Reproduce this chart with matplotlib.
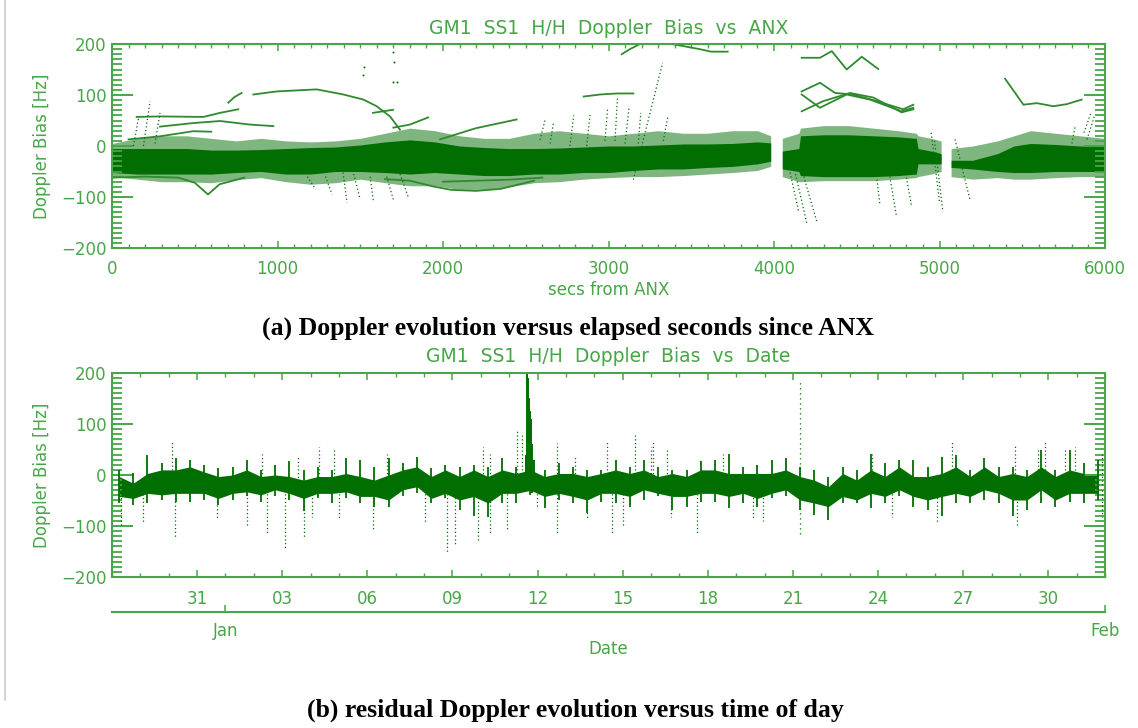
import numpy as np
import matplotlib
matplotlib.use('Agg')
import matplotlib.pyplot as plt
from matplotlib.lines import Line2D
from matplotlib.ticker import MultipleLocator, FixedLocator

AXIS_GREEN = '#48a648'
DATA_GREEN = '#006e00'
TRACE_GREEN = '#2f8a2f'

# ---------------- panel (a): bias vs seconds from ANX ----------------
# dense band, one block per pass segment (secs, Hz)
seg1_t = [0, 150, 300, 450, 600, 750, 900, 1050, 1200, 1350, 1500, 1650, 1800, 1950,
          2100, 2250, 2400, 2550, 2700, 2850, 3000, 3150, 3300, 3450, 3600, 3750, 3900, 3980]
seg1_hi = [-5, -5, -5, -5, -8, -8, -7, -5, -3, -2, 2, 8, 12, 8,
           0, -3, -5, -5, -4, -2, 0, 0, 2, 4, 4, 5, 8, 6]
seg1_lo = [-52, -55, -55, -55, -55, -52, -50, -55, -55, -50, -50, -52, -55, -52,
           -55, -58, -58, -55, -55, -52, -52, -48, -45, -45, -42, -40, -35, -30]
seg1_fhi = [5, 15, 20, 20, 15, 10, 15, 10, 8, 10, 15, 25, 35, 30,
            20, 15, 15, 25, 30, 25, 20, 25, 30, 25, 25, 30, 30, 20]
seg1_flo = [-60, -65, -70, -70, -72, -66, -62, -70, -75, -72, -65, -72, -78, -78,
            -85, -85, -80, -72, -70, -65, -62, -60, -60, -58, -55, -52, -48, -40]

seg2_t = [4050, 4150, 4160, 4300, 4450, 4600, 4750, 4860, 4870, 4950, 5010]
seg2_hi = [-10, -5, 20, 22, 22, 20, 18, 15, -5, -10, -15]
seg2_lo = [-45, -50, -58, -60, -60, -60, -58, -55, -35, -35, -35]
seg2_fhi = [15, 25, 35, 40, 40, 35, 30, 25, 20, 15, 10]
seg2_flo = [-60, -70, -70, -68, -68, -68, -65, -62, -60, -55, -50]

seg3_t = [5070, 5200, 5350, 5450, 5550, 5700, 5850, 6000]
seg3_hi = [-28, -28, -15, 0, 5, 3, 0, 0]
seg3_lo = [-42, -45, -50, -52, -52, -50, -50, -50]
seg3_fhi = [-5, 0, 10, 20, 30, 25, 20, 15]
seg3_flo = [-60, -65, -62, -65, -65, -62, -60, -60]

# single passes standing off the band
traces_a = [
    ([854, 995, 1237, 1398, 1519, 1599, 1680, 1740], [101, 107, 111, 101, 91, 78, 58, 32]),
    ([703, 740, 783], [85, 96, 104]),
    ([149, 290, 552, 653, 763], [57, 58, 57, 65, 72]),
    ([290, 491, 653, 834, 975], [38, 45, 49, 42, 39]),
    ([100, 290, 491, 600], [13, 19, 29, 28]),
    ([0, 200, 400, 500, 580, 650, 800], [-62, -60, -62, -72, -95, -75, -62]),
    ([1650, 1800, 1950, 2050, 2200, 2350, 2450, 2550], [-65, -68, -80, -86, -88, -84, -76, -68]),
    ([2000, 2200, 2400, 2600], [-70, -68, -66, -62]),
    ([1700, 1800, 1910], [36, 42, 56]),
    ([1577, 1698], [65, 71]),
    ([1982, 2200, 2445], [13, 35, 52]),
    ([3080, 3130, 3190], [180, 190, 200]),
    ([3380, 3450, 3550, 3620, 3720], [200, 196, 190, 185, 185]),
    ([2850, 2950, 3050, 3150], [97, 101, 103, 103]),
    ([4167, 4278, 4349, 4439, 4530, 4630], [173, 173, 186, 150, 175, 151]),
    ([4167, 4278, 4369, 4479, 4620, 4781, 4842], [107, 124, 104, 101, 88, 72, 81]),
    ([4167, 4278, 4439, 4580, 4771, 4842], [101, 75, 101, 91, 68, 75]),
    ([4167, 4298, 4459, 4600, 4771, 4842], [68, 88, 104, 95, 66, 72]),
    ([5396, 5507, 5588, 5688, 5768, 5859], [132, 81, 84, 78, 82, 91]),
]

# sparse dotted passes (start secs, start Hz, end secs, end Hz)
dots_t0 = [130, 190, 260, 1180, 1290, 1396, 1460, 1560, 1660, 1740, 2586, 2647, 2767, 2868,
           2979, 3039, 3100, 3180, 3150, 3331, 4097, 4130, 4180, 4622, 4700, 4800, 4950,
           4970, 5094, 5800, 5891, 5873]
dots_v0 = [0, 0, 5, -60, -60, -52, -55, -60, -60, -55, 12, 5, 0, 0,
           10, 10, 5, 5, -66, 10, -52, -55, -60, -66, -60, -62, 26,
           10, 13, 5, 13, 26]
dots_t1 = [160, 230, 290, 1230, 1330, 1420, 1500, 1580, 1700, 1790, 2616, 2667, 2790, 2890,
           2995, 3055, 3125, 3195, 3327, 3360, 4150, 4200, 4260, 4640, 4740, 4830, 5000,
           5020, 5184, 5820, 5940, 5915]
dots_v1 = [55, 88, 65, -85, -95, -111, -105, -110, -105, -100, 50, 45, 60, 65,
           75, 98, 78, 65, 163, 60, -130, -154, -150, -115, -138, -115, -110,
           -129, -105, 40, 62, 65]
stray_t = [1520, 1700, 1705, 1700, 1720, 1515]
stray_v = [155, 185, 165, 125, 125, 140]

# ---------------- panel (b): bias vs date ----------------
# half-day bins starting 28 Dec; core of the cloud and its spiky extremes (Hz)
core_hi = [-3, -16, 3, 10, 10, 16, 6, -3, 0, 10, -3, 0, -3, -10, -3, -3, 3,
           -3, -10, 0, 10, 16, -3, 10, -3, 10, -3, 10, 3, 10, -3, 3, 3, -3, 3,
           10, 3, 10, -3, 3, -3, 10, 10, 3, 3, 3, 3, 10, -3, -10, -23, 3,
           -10, 10, -3, 16, -3, -3, 3, 16, -3, 16, -3, 3, -3, 16, -3, 10, 3, 3]
core_lo = [-42, -46, -36, -39, -36, -36, -36, -46, -36, -33, -39, -29, -36, -46, -36, -36, -33,
           -42, -42, -49, -29, -23, -46, -36, -49, -42, -55, -36, -36, -30, -42, -36, -42, -49, -36,
           -36, -42, -29, -36, -42, -42, -36, -36, -42, -36, -46, -36, -29, -49, -55, -62, -42,
           -49, -36, -42, -29, -42, -49, -42, -36, -42, -29, -36, -49, -49, -29, -49, -36, -36, -36]
peak_hi = [10, 3, 40, 23, 33, 30, 20, 13, 16, 30, 10, 20, 27, 10, 16, 10, 33,
           30, 16, 33, 23, 36, 13, 20, 16, 20, 16, 33, 16, 16, 10, 23, 16, 10, 10,
           30, 16, 30, 16, 10, 10, 27, 30, 42, 16, 20, 30, 33, 16, 10, -3, 16,
           10, 42, 23, 30, 30, 16, 36, 40, 10, 33, 16, 16, 10, 49, 10, 49, 23, 30]
peak_lo = [-55, -59, -55, -49, -52, -52, -49, -59, -49, -42, -52, -42, -49, -70, -46, -55, -46,
           -55, -62, -62, -42, -36, -55, -46, -68, -80, -82, -55, -55, -40, -65, -49, -55, -75, -52,
           -55, -62, -49, -42, -68, -62, -52, -52, -65, -55, -62, -46, -42, -68, -78, -88, -55,
           -55, -65, -55, -42, -62, -68, -80, -55, -55, -49, -55, -81, -68, -55, -62, -52, -55, -49]

# isolated dotted outliers (day, Hz)
drop_day = [0.3, 1.10, 2.22, 3.69, 4.75, 5.45, 6.10, 6.75, 7.04, 7.99, 9.21, 11.03, 11.82,
            12.09, 12.91, 13.32, 13.91, 14.97, 15.67, 16.73, 17.61, 18.02, 19.72, 20.61,
            22.60, 22.96, 27.48, 29.07, 31.89, 34.9]
drop_val = [-100, -95, -121, -88, -98, -118, -144, -121, -82, -88, -108, -95, -153,
            -140, -127, -114, -105, -65, -114, -88, -114, -101, -82, -114,
            -88, -91, -82, -95, -101, -82]
jump_day = [2.13, 5.28, 6.56, 7.31, 7.83, 9.68, 13.09, 13.32, 14.26, 14.44, 15.67, 16.32,
            17.46, 18.43, 18.99, 19.08, 19.55, 21.55, 26.78, 29.60, 31.83, 32.65, 32.89,
            33.59, 33.94, 34.9]
jump_val = [69, 42, 40, 55, 52, 42, 55, 42, 88, 82, 62, 40,
            69, 82, 55, 69, 49, 42, 42, 69, 59, 49, 69,
            52, 55, 42]
# 21 Jan sweep and the 11/12 Jan excursion
sweep_day, sweep_lo, sweep_hi = 24.24, -115, 186
event_day = [14.60, 14.62, 14.66, 14.70, 14.74, 14.78, 14.82, 14.86]
event_lo = [-20, -10, 60, -20, 30, -30, -35, -30]
event_hi = [40, 200, 190, 150, 125, 110, 60, 30]

date_ticks = [3, 6, 9, 12, 15, 18, 21, 24, 27, 30, 33]
date_labels = ['31', '03', '06', '09', '12', '15', '18', '21', '24', '27', '30']
month_ticks = [4, 35]
month_labels = ['Jan', 'Feb']

W, H = 1138, 728
fig = plt.figure(figsize=(W / 100, H / 100), dpi=100)
fig.patch.set_facecolor('white')
plt.rcParams['font.family'] = ['DejaVu Sans']

def px_box(x0, y0, x1, y1):
    return [x0 / W, 1 - y1 / H, (x1 - x0) / W, (y1 - y0) / H]

def style_axes(ax):
    for s in ax.spines.values():
        s.set_color(AXIS_GREEN)
        s.set_linewidth(1.5)
    ax.set_ylim(-200, 200)
    ax.yaxis.set_major_locator(MultipleLocator(100))
    ax.yaxis.set_minor_locator(MultipleLocator(10))
    ax.tick_params(which='both', direction='in', top=True, right=True,
                   colors=AXIS_GREEN, labelcolor=AXIS_GREEN, labelsize=12)
    ax.tick_params(axis='y', which='major', length=15, width=1.4, pad=4)
    ax.tick_params(axis='y', which='minor', length=7, width=1.3)
    ax.tick_params(axis='x', which='major', length=5, width=1.1, pad=9)
    ax.tick_params(axis='x', which='minor', length=3, width=1.0)
    ax.set_ylabel('Doppler Bias [Hz]', color=AXIS_GREEN, fontsize=12)
    ax.yaxis.set_label_coords(-0.061, 0.5)

# panel (a)
ax1 = fig.add_axes(px_box(112, 44, 1105, 248))
style_axes(ax1)
ax1.set_xlim(0, 6000)
ax1.xaxis.set_major_locator(MultipleLocator(1000))
ax1.xaxis.set_minor_locator(MultipleLocator(100))
ax1.set_xlabel('secs from ANX', color=AXIS_GREEN, fontsize=12, labelpad=2)
for t, hi, lo, fhi, flo in [(seg1_t, seg1_hi, seg1_lo, seg1_fhi, seg1_flo),
                            (seg2_t, seg2_hi, seg2_lo, seg2_fhi, seg2_flo),
                            (seg3_t, seg3_hi, seg3_lo, seg3_fhi, seg3_flo)]:
    ax1.fill_between(t, flo, fhi, color=DATA_GREEN, alpha=0.5, lw=0)
    ax1.fill_between(t, lo, hi, color=DATA_GREEN, lw=0)
for tt, vv in traces_a:
    ax1.plot(tt, vv, color=TRACE_GREEN, lw=1.3)
for t0, v0, t1, v1 in zip(dots_t0, dots_v0, dots_t1, dots_v1):
    ax1.plot([t0, t1], [v0, v1], color=DATA_GREEN, lw=0.9, ls=(0, (1, 2)))
ax1.scatter(stray_t, stray_v, s=2, color=DATA_GREEN, lw=0)
ax1.text(0.5, 1.075, 'GM1  SS1  H/H  Doppler  Bias  vs  ANX', transform=ax1.transAxes,
         ha='center', va='center', color=AXIS_GREEN, fontsize=13.5)

# panel (b)
ax2 = fig.add_axes(px_box(112, 373, 1105, 577))
style_axes(ax2)
ax2.set_xlim(0, 35)
ax2.xaxis.set_major_locator(FixedLocator(date_ticks))
ax2.xaxis.set_minor_locator(MultipleLocator(1))
ax2.set_xticklabels(date_labels)
day_mid = np.arange(len(core_hi)) * 0.5 + 0.25
ax2.fill_between(day_mid, core_lo, core_hi, color=DATA_GREEN, lw=0)
ax2.vlines(day_mid, peak_lo, peak_hi, color=DATA_GREEN, lw=1.3)
ax2.vlines(drop_day, -30, drop_val, color=DATA_GREEN, lw=0.9, linestyles=(0, (1, 2)))
ax2.vlines(jump_day, -20, jump_val, color=DATA_GREEN, lw=0.9, linestyles=(0, (1, 2)))
ax2.vlines([sweep_day], sweep_lo, sweep_hi, color=DATA_GREEN, lw=0.9, linestyles=(0, (1, 3)))
ax2.vlines(event_day, event_lo, event_hi, color=DATA_GREEN, lw=1.4)
ax2.text(0.5, 1.08, 'GM1  SS1  H/H  Doppler  Bias  vs  Date', transform=ax2.transAxes,
         ha='center', va='center', color=AXIS_GREEN, fontsize=13.5)

# month axis underneath
ax3 = fig.add_axes(px_box(112, 611, 1105, 612))
ax3.set_xlim(0, 35)
ax3.set_ylim(0, 1)
for side in ['left', 'right', 'top']:
    ax3.spines[side].set_visible(False)
ax3.spines['bottom'].set_color(AXIS_GREEN)
ax3.spines['bottom'].set_linewidth(1.5)
ax3.set_yticks([])
ax3.set_xticks(month_ticks)
ax3.set_xticklabels(month_labels)
ax3.tick_params(axis='x', direction='in', length=5, width=1.1, colors=AXIS_GREEN,
                labelcolor=AXIS_GREEN, labelsize=12, pad=7)
ax3.patch.set_visible(False)
fig.text(608 / W, 1 - 649 / H, 'Date', ha='center', va='center', color=AXIS_GREEN, fontsize=12)

# captions
fig.text(568 / W, 1 - 328 / H, '(a) Doppler evolution versus elapsed seconds since ANX',
         ha='center', va='center', fontsize=18.5, fontweight='bold', family='Liberation Serif')
fig.text(575 / W, 1 - 710 / H, '(b) residual Doppler evolution versus time of day',
         ha='center', va='center', fontsize=18.5, fontweight='bold', family='Liberation Serif')

# page edge
fig.add_artist(Line2D([5 / W, 5 / W], [1 - 700 / H, 1.0], color='#cccccc', lw=1.2))

fig.savefig('out.png', dpi=100)
